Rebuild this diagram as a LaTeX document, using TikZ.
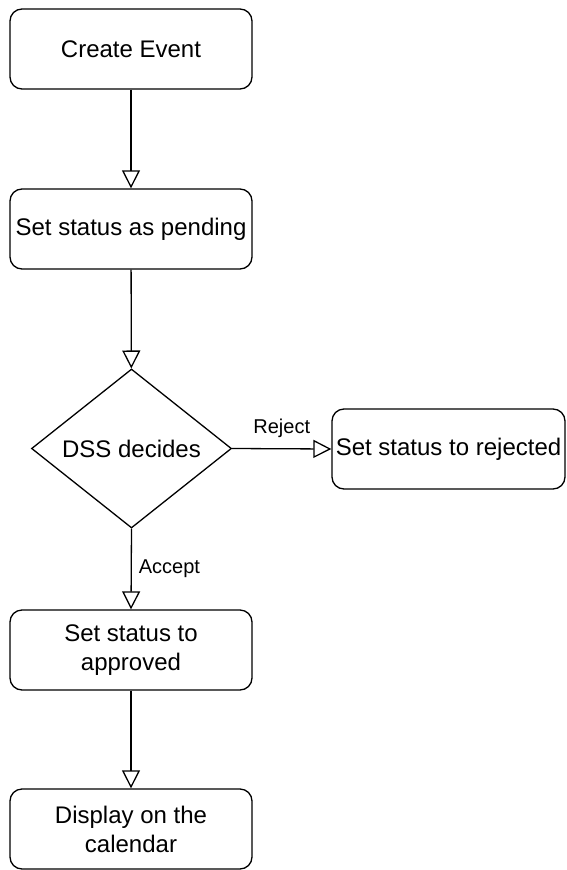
\documentclass[tikz,border=0pt]{standalone}
\usepackage{fontspec}
\setmainfont{Liberation Sans}
\usetikzlibrary{shapes.geometric,arrows.meta}
\begin{document}
\begin{tikzpicture}[x=1pt,y=-1pt,
  every node/.style={font=\fontsize{24}{29}\selectfont},
  box/.style={draw, line width=1.3pt, rounded corners=12pt, minimum width=242pt, minimum height=80pt, inner sep=2pt, align=center},
  decision/.style={draw, diamond, line width=1.3pt, shape aspect=1.25, minimum width=200pt, minimum height=159pt, inner sep=0pt},
  flow/.style={line width=1.3pt, -{Triangle[open, length=18pt 0 0, width=18pt 0 0, line width=1.3pt]}},
  lbl/.style={font=\fontsize{20}{24}\selectfont, inner sep=0pt}]
  \fill[white] (0,0) rectangle (566,870);
  \useasboundingbox (0,0) rectangle (566,870);

  \node[box] (create) at (131,49) {Create Event};
  \node[box] (pending) at (131,229) {Set status as pending};
  \node[decision] (dss) at (131.5,448.5) {DSS decides};
  \node[box, minimum width=233pt] (rejected) at (448.5,449) {Set status to rejected};
  \node[box] (approved) at (131,650) {Set status to\\approved};
  \node[box] (display) at (131,829) {Display on the\\calendar};

  \draw[flow] (create) -- (pending);
  \draw[flow] (pending) -- (dss);
  \draw[flow] (dss.east) -- node[lbl, anchor=south, yshift=10pt] (rej) {Reject} (rejected.west);
  \draw[flow] (dss.south) -- node[lbl, anchor=west, xshift=7pt] (acc) {Accept} (approved.north);
  \draw[flow] (approved) -- (display);
\end{tikzpicture}
\end{document}
